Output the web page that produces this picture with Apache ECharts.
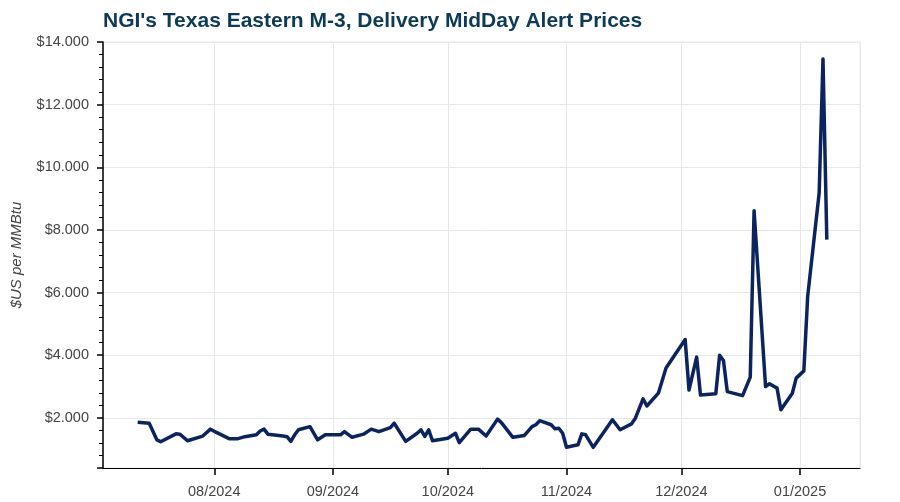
<!DOCTYPE html>
<html>
<head>
<meta charset="utf-8">
<script src="https://cdn.jsdelivr.net/npm/echarts@6/dist/echarts.min.js"></script>
<style>
html,body{margin:0;padding:0;background:#fff;}
#chart{width:900px;height:502px;}
</style>
</head>
<body>
<div id="chart"></div>
<script>
const dates = [
"2024-07-12","2024-07-15","2024-07-17","2024-07-18","2024-07-22","2024-07-23","2024-07-25","2024-07-29","2024-07-31",
"2024-08-01","2024-08-05","2024-08-07","2024-08-09","2024-08-12","2024-08-13","2024-08-14","2024-08-15","2024-08-19",
"2024-08-20","2024-08-21","2024-08-22","2024-08-23","2024-08-26","2024-08-28","2024-08-30",
"2024-09-03","2024-09-04","2024-09-06","2024-09-09","2024-09-11","2024-09-13","2024-09-16","2024-09-17","2024-09-20",
"2024-09-23","2024-09-24","2024-09-25","2024-09-26","2024-09-27",
"2024-10-01","2024-10-03","2024-10-04","2024-10-07","2024-10-09","2024-10-11","2024-10-14","2024-10-15","2024-10-18",
"2024-10-21","2024-10-23","2024-10-24","2024-10-25","2024-10-28","2024-10-29","2024-10-30","2024-10-31",
"2024-11-01","2024-11-04","2024-11-05","2024-11-06","2024-11-08","2024-11-13","2024-11-15","2024-11-18","2024-11-19",
"2024-11-21","2024-11-22","2024-11-25","2024-11-27",
"2024-12-02","2024-12-03","2024-12-05","2024-12-06","2024-12-10","2024-12-11","2024-12-12","2024-12-13","2024-12-17",
"2024-12-19","2024-12-20","2024-12-23","2024-12-24","2024-12-26","2024-12-27","2024-12-30","2024-12-31",
"2025-01-02","2025-01-03","2025-01-06","2025-01-07","2025-01-08"
];
const prices = [
1.86,1.83,1.30,1.24,1.49,1.48,1.27,1.42,1.64,
1.57,1.33,1.33,1.40,1.46,1.58,1.64,1.48,1.42,
1.40,1.25,1.46,1.62,1.72,1.30,1.46,
1.46,1.56,1.38,1.48,1.64,1.56,1.69,1.83,1.25,
1.51,1.62,1.41,1.62,1.27,
1.35,1.51,1.21,1.64,1.64,1.42,1.96,1.85,1.38,
1.44,1.72,1.78,1.91,1.78,1.65,1.67,1.51,
1.06,1.14,1.49,1.46,1.06,1.94,1.62,1.81,1.99,
2.61,2.38,2.79,3.59,
4.50,2.89,3.94,2.73,2.77,4.00,3.83,2.84,2.71,
3.30,8.61,3.00,3.09,2.95,2.26,2.79,3.27,
3.50,5.88,9.18,13.46,7.69
];
const yTickValues = [2,4,6,8,10,12,14];
const titleText = "NGI's Texas Eastern M-3, Delivery MidDay Alert Prices";
const yAxisTitle = "$US per MMBtu";

const seriesData = dates.map((d, i) => {
  const p = d.split('-').map(Number);
  return [new Date(p[0], p[1] - 1, p[2]).getTime(), prices[i]];
});

function pad(n){ return (n < 10 ? '0' : '') + n; }

const chart = echarts.init(document.getElementById('chart'), null, {renderer: 'canvas'});
const FONT = "'Liberation Sans', Arial, sans-serif";
chart.setOption({
  animation: false,
  backgroundColor: '#ffffff',
  title: {
    text: titleText,
    left: 98,
    top: 6,
    textStyle: {fontFamily: FONT, fontSize: 21, fontWeight: 'bold', color: '#0d3b56'}
  },
  grid: {
    left: 103, right: 40, top: 42, bottom: 34,
    containLabel: false,
    outerBoundsMode: 'none',
    show: true, borderColor: '#e8e8e8', borderWidth: 1
  },
  xAxis: {
    type: 'time',
    min: new Date(2024, 6, 2, 22, 30).getTime(),
    max: new Date(2025, 0, 16, 16, 0).getTime(),
    minInterval: 28 * 86400000,
    maxInterval: 31 * 86400000,
    axisLine: {show: true, lineStyle: {color: '#000', width: 1}},
    axisTick: {show: true, length: 7, lineStyle: {color: '#000', width: 1.5}},
    axisLabel: {
      show: true, margin: 16, fontFamily: FONT, fontSize: 14.5, color: '#444',
      showMinLabel: false, showMaxLabel: false,
      formatter: function (v) {
        const d = new Date(v);
        if (d.getDate() !== 1 || d.getHours() !== 0) return '';
        return pad(d.getMonth() + 1) + '/' + d.getFullYear();
      }
    },
    splitLine: {show: true, lineStyle: {color: '#e8e8e8', width: 1}}
  },
  yAxis: {
    type: 'value',
    min: 0.4,
    max: 14,
    splitNumber: 7,
    name: yAxisTitle,
    nameLocation: 'middle',
    nameGap: 79,
    nameTextStyle: {fontFamily: FONT, fontSize: 15, fontStyle: 'italic', color: '#444'},
    axisLine: {show: true, lineStyle: {color: '#000', width: 1.5}},
    axisTick: {show: true, length: 6, lineStyle: {color: '#000', width: 1.5}},
    minorTick: {show: true, splitNumber: 5, length: 4, lineStyle: {color: '#000', width: 1}},
    axisLabel: {
      margin: 14, fontFamily: FONT, fontSize: 14.5, color: '#444',
      formatter: function (v) {
        if (yTickValues.indexOf(Math.round(v * 1000) / 1000) < 0) return '';
        return '$' + v.toFixed(3);
      }
    },
    splitLine: {show: true, lineStyle: {color: '#e8e8e8', width: 1}}
  },
  series: [{
    type: 'line',
    data: seriesData,
    showSymbol: false,
    symbol: 'none',
    smooth: false,
    lineStyle: {color: '#0b2460', width: 3.5, join: 'round'}
  }]
});
</script>
</body>
</html>
